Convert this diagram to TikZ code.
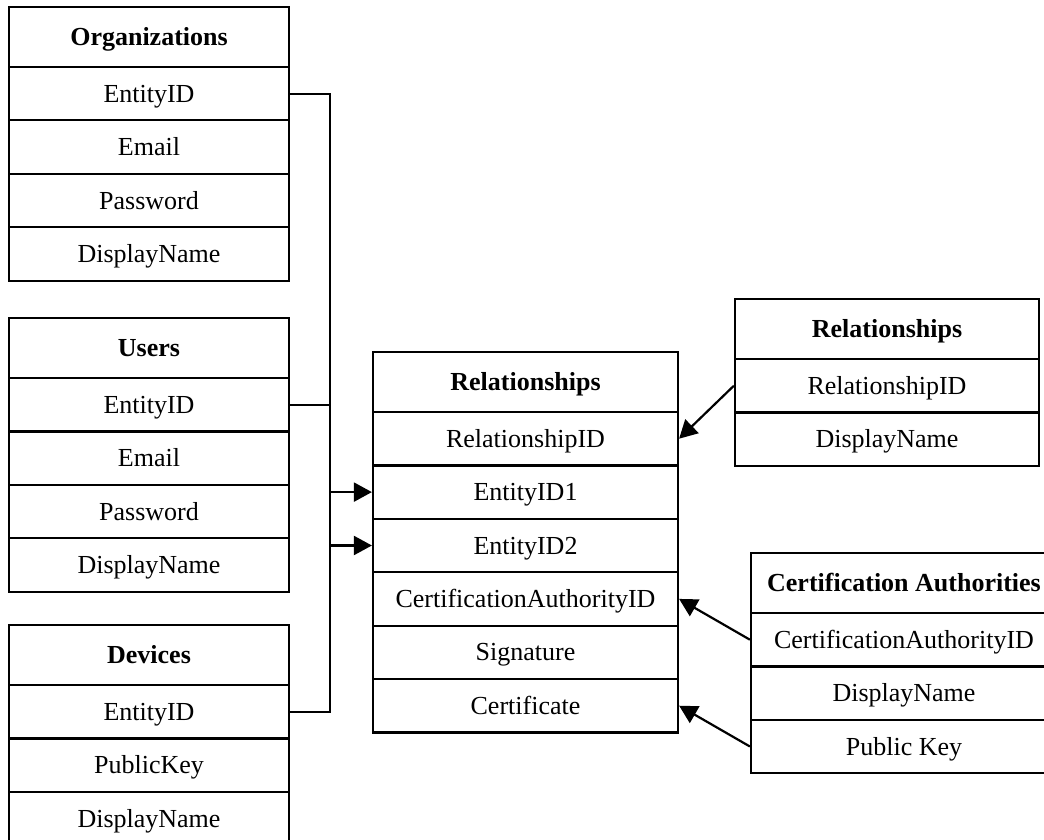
\documentclass[tikz,border=0pt]{standalone}
\usepackage{fontspec}
\setmainfont{Liberation Serif}
\usetikzlibrary{arrows.meta}
\tikzset{
  cell/.style={draw, line width=2.2pt, minimum height=53.4pt, inner sep=0pt, anchor=center,
    text height=17pt, text depth=0pt, font=\fontsize{26}{30}\selectfont},
  head/.style={cell, minimum height=60pt, font=\fontsize{26}{30}\selectfont\bfseries},
  link/.style={line width=2.2pt},
  arr/.style={line width=2.2pt, -{Triangle[length=18pt,width=19pt]}}
}
\begin{document}
\begin{tikzpicture}[x=1pt,y=-1pt]
\useasboundingbox (0,0) rectangle (1044,840);
% Organizations
\begin{scope}[every node/.append style={minimum width=280pt}]
\node[head] (org-h) at (149,37) {Organizations};
\node[cell] (org-id) at (149,93.7) {EntityID};
\node[cell] (org-em) at (149,147.1) {Email};
\node[cell] (org-pw) at (149,200.5) {Password};
\node[cell] (org-dn) at (149,253.9) {DisplayName};
% Users
\node[head] (usr-h) at (149,348) {Users};
\node[cell] (usr-id) at (149,404.7) {EntityID};
\node[cell] (usr-em) at (149,458.1) {Email};
\node[cell] (usr-pw) at (149,511.5) {Password};
\node[cell] (usr-dn) at (149,564.9) {DisplayName};
% Devices
\node[head] (dev-h) at (149,655) {Devices};
\node[cell] (dev-id) at (149,711.7) {EntityID};
\node[cell] (dev-pk) at (149,765.1) {PublicKey};
\node[cell] (dev-dn) at (149,818.5) {DisplayName};
\end{scope}
% Central Relationships
\begin{scope}[every node/.append style={minimum width=305pt}]
\node[head] (rel-h) at (525.5,382) {Relationships};
\node[cell] (rel-id) at (525.5,438.7) {RelationshipID};
\node[cell] (rel-e1) at (525.5,492.1) {EntityID1};
\node[cell] (rel-e2) at (525.5,545.5) {EntityID2};
\node[cell] (rel-ca) at (525.5,598.9) {CertificationAuthorityID};
\node[cell] (rel-sg) at (525.5,652.3) {Signature};
\node[cell] (rel-ct) at (525.5,705.7) {Certificate};
\end{scope}
% Right Relationships
\begin{scope}[every node/.append style={minimum width=304pt}]
\node[head] (rr-h) at (887,329) {Relationships};
\node[cell] (rr-id) at (887,385.7) {RelationshipID};
\node[cell] (rr-dn) at (887,439.1) {DisplayName};
\end{scope}
% Certification Authorities
\begin{scope}[every node/.append style={minimum width=306pt}]
\node[head] (ca-h) at (904,583) {Certification Authorities};
\node[cell] (ca-id) at (904,639.7) {CertificationAuthorityID};
\node[cell] (ca-dn) at (904,693.1) {DisplayName};
\node[cell] (ca-pk) at (904,746.5) {Public Key};
\end{scope}
% bus
\coordinate (bt) at (330,93.7);
\coordinate (bb) at (330,711.7);
\draw[link] (org-id.east) -- (bt) -- (bb) -- (dev-id.east);
\draw[link] (usr-id.east) -- (usr-id.east -| bt);
\draw[arr] (rel-e1.west -| bt) -- (rel-e1.west);
\draw[arr] (rel-e2.west -| bt) -- (rel-e2.west);
% diagonal arrows
\draw[arr] (rr-id.west) -- (rel-id.east);
\draw[arr] (ca-id.west) -- (rel-ca.east);
\draw[arr] (ca-pk.west) -- (rel-ct.east);
\end{tikzpicture}
\end{document}
